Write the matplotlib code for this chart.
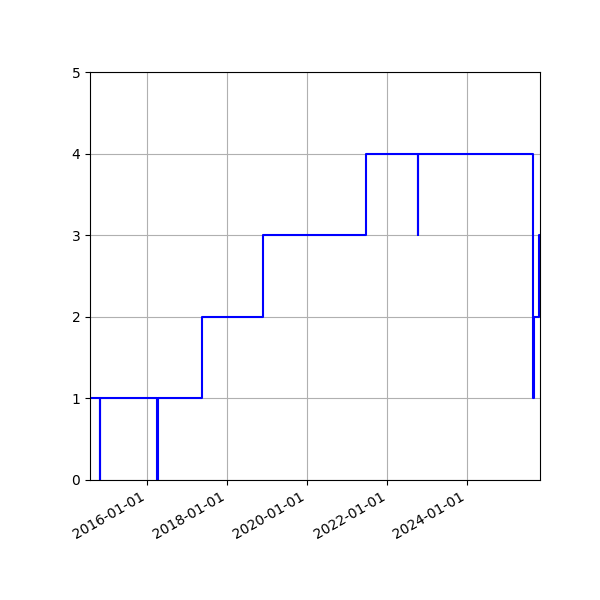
import datetime as dt
import matplotlib
matplotlib.use('Agg')
import matplotlib.pyplot as plt
import matplotlib.dates as mdates

# change points (date, level) - drawn as a post step line
dates = ['2014-07-27', '2014-10-26', '2014-10-29', '2016-04-01', '2016-04-09',
         '2017-05-12', '2018-11-26', '2021-06-18', '2022-10-07', '2022-10-10',
         '2025-08-27', '2025-09-01', '2025-10-16', '2025-10-26']
levels = [1, 0, 1, 0, 1,
          2, 3, 4, 3, 4,
          1, 2, 3, 3]

x = [dt.datetime.strptime(d, '%Y-%m-%d') for d in dates]

fig = plt.figure(figsize=(6, 6), dpi=100)
ax = fig.add_subplot(111)
ax.step(x, levels, where='post', color='blue', linewidth=1.5)

ax.set_xlim(x[0], x[-1])
ax.set_ylim(0, 5)
ax.set_yticks(range(0, 6))
ax.xaxis.set_major_locator(mdates.YearLocator(2))
ax.xaxis.set_major_formatter(mdates.DateFormatter('%Y-%m-%d'))
ax.grid(True)

fig.autofmt_xdate()
fig.subplots_adjust(left=0.15, right=0.9, top=0.88, bottom=0.2)
fig.savefig('out.png')
